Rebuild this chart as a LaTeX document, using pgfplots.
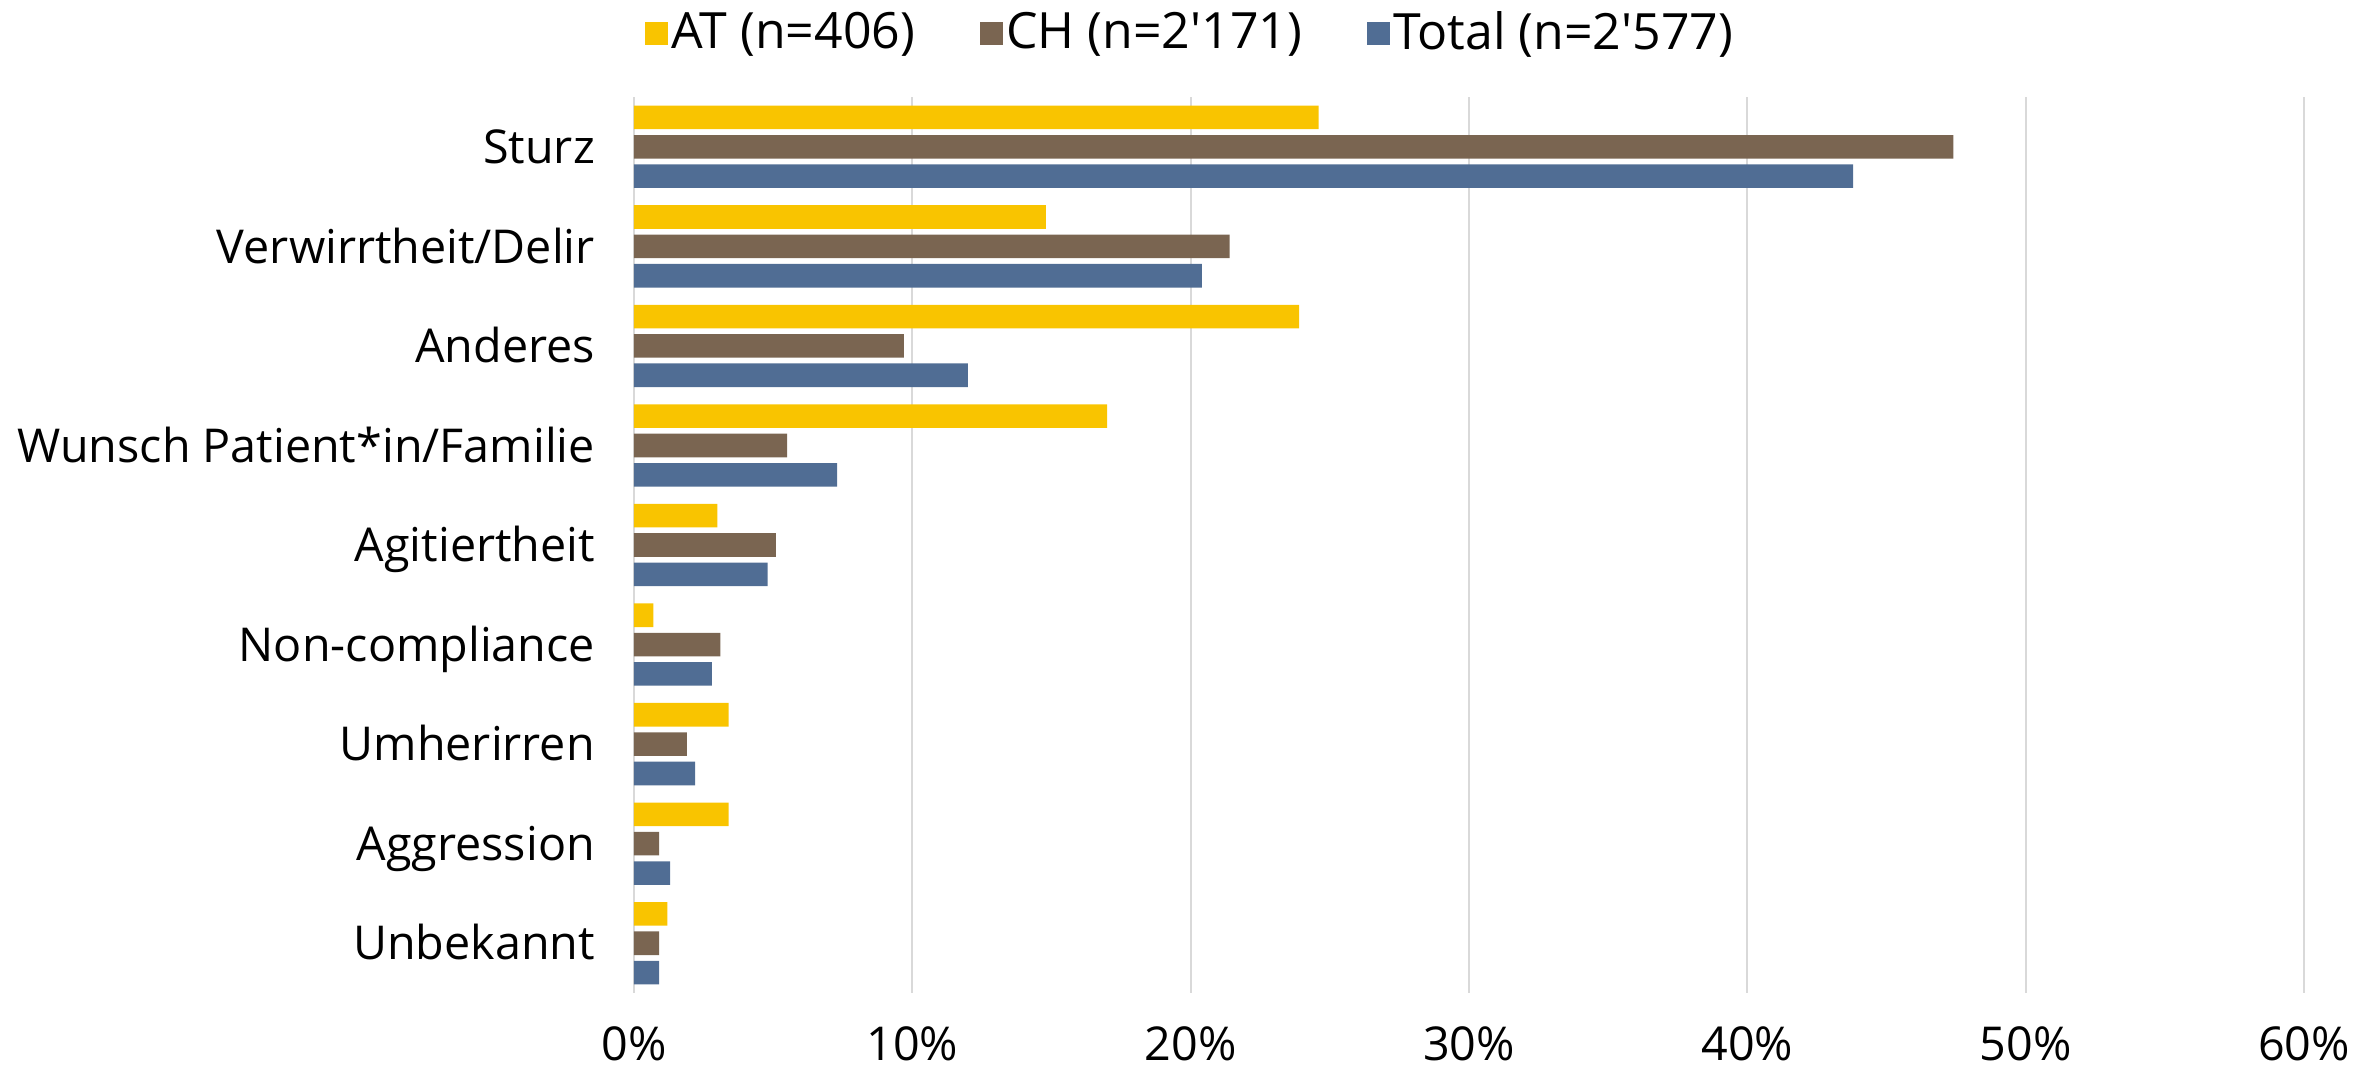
\documentclass[border=0pt]{standalone}
\usepackage{fontspec}
\setmainfont{Open Sans}[Ligatures=TeXOff]
\usepackage{pgfplots}
\pgfplotsset{compat=1.18}

\definecolor{cAT}{HTML}{F9C400}
\definecolor{cCH}{HTML}{7A6551}
\definecolor{cTot}{HTML}{506D94}
\definecolor{gridgray}{HTML}{D9D9D9}

\newcommand{\tickfont}{\fontsize{14bp}{16.5bp}\selectfont}
\newcommand{\legfont}{\fontsize{15bp}{17.5bp}\selectfont}

\begin{document}
\begin{tikzpicture}
\useasboundingbox (-190.2bp,-22.2bp) rectangle (523.2bp,297.9bp);
\begin{axis}[
  at={(0,0)}, anchor=south west,
  scale only axis,
  width=501bp, height=268.8bp,
  xbar,
  bar width=0.237,
  xmin=0, xmax=60,
  ymin=-0.5, ymax=8.5,
  y dir=reverse,
  xtick={0,10,20,30,40,50,60},
  xticklabels={0\%,10\%,20\%,30\%,40\%,50\%,60\%},
  ytick={0,1,2,3,4,5,6,7,8},
  yticklabels={Sturz,Verwirrtheit/Delir,Anderes,Wunsch Patient*in/Familie,Agitiertheit,Non-compliance,Umherirren,Aggression,Unbekannt},
  xmajorgrids,
  major grid style={color=gridgray, line width=0.6bp},
  axis line style={draw=none},
  tick style={draw=none},
  tick label style={font=\tickfont},
  xticklabel style={anchor=base, inner sep=0pt, yshift=-20.1bp},
  yticklabel style={anchor=base east, inner sep=0pt, xshift=-7.3bp, yshift=-5bp},
  legend columns=3,
  legend style={
    at={(0.335,1.0714)}, anchor=center,
    draw=none, fill=none,
    font=\legfont,
    nodes={inner xsep=2.5bp},
    /tikz/every odd column/.append style={column sep=-1.5bp},
    /tikz/every even column/.append style={column sep=17bp},
    legend cell align=left,
  },
  legend image code/.code={\fill[#1] (0bp,-3.45bp) rectangle (6.9bp,3.45bp);},
]
% AT
\addplot[fill=cAT, draw=none, bar shift=-0.295] coordinates {
  (24.6,0) (14.8,1) (23.9,2) (17.0,3) (3.0,4) (0.7,5) (3.4,6) (3.4,7) (1.2,8)
};
% CH
\addplot[fill=cCH, draw=none, bar shift=0] coordinates {
  (47.4,0) (21.4,1) (9.7,2) (5.5,3) (5.1,4) (3.1,5) (1.9,6) (0.9,7) (0.9,8)
};
% Total
\addplot[fill=cTot, draw=none, bar shift=0.295] coordinates {
  (43.8,0) (20.4,1) (12.0,2) (7.3,3) (4.8,4) (2.8,5) (2.2,6) (1.3,7) (0.9,8)
};
\legend{AT (n=406),CH (n=2'171),Total (n=2'577)}
\end{axis}
\end{tikzpicture}
\end{document}
